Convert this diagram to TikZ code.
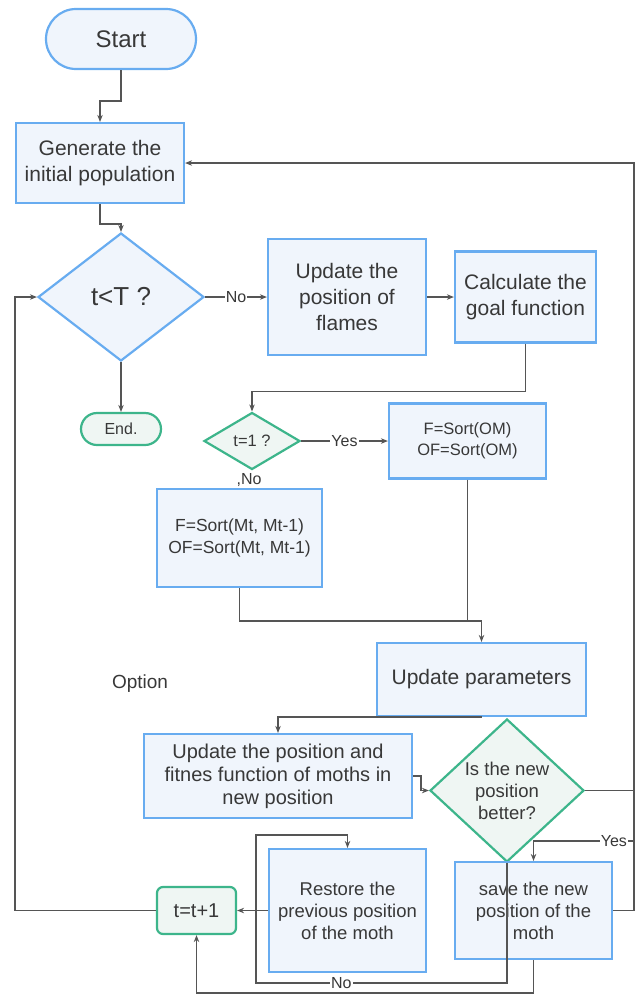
\documentclass[tikz,border=0pt]{standalone}
\usepackage{fontspec}
\setmainfont{Liberation Sans}
\usepackage{tikz}
\usetikzlibrary{shapes.geometric}
\usetikzlibrary{arrows.meta}

\definecolor{azul}{HTML}{68ACF0}
\definecolor{azulclaro}{HTML}{F0F5FC}
\definecolor{verde}{HTML}{3DB58B}
\definecolor{verdeclaro}{HTML}{EFF6F3}
\definecolor{linea}{HTML}{555555}
\definecolor{texto}{HTML}{383838}

\begin{document}
\begin{tikzpicture}[x=1pt, y=-1pt,
    >={Stealth[length=7pt,width=5.5pt]},
    every node/.style={text=texto, align=center, inner sep=0pt},
    caja/.style={draw=azul, fill=azulclaro, line width=2.2pt, rectangle},
    cajaverde/.style={draw=verde, fill=verdeclaro, line width=2.2pt, rectangle},
    rombo/.style={draw=azul, fill=azulclaro, line width=2.2pt, diamond},
    romboverde/.style={draw=verde, fill=verdeclaro, line width=2.2pt, diamond},
    etiqueta/.style={fill=white, inner sep=1pt, font=\fontsize{16}{19}\selectfont},
    arista/.style={draw=linea, line width=1.4pt}]
  \useasboundingbox (0,0) rectangle (638,994);

  % Nodos
  \node[caja, rounded corners=30pt, minimum width=150pt, minimum height=60pt,
        font=\fontsize{24}{28}\selectfont] (start) at (121,39) {Start};
  \node[caja, minimum width=168pt, minimum height=80pt,
        font=\fontsize{21}{26}\selectfont] (gen) at (100,163) {Generate the\\initial population};
  \node[rombo, minimum width=166pt, minimum height=128pt,
        font=\fontsize{26}{30}\selectfont] (tT) at (121,297) {t<T ?};
  \node[cajaverde, rounded corners=16pt, minimum width=80pt, minimum height=32pt,
        font=\fontsize{16}{19}\selectfont] (fin) at (121,429) {End.};
  \node[caja, minimum width=158pt, minimum height=116pt,
        font=\fontsize{21}{26}\selectfont] (flames) at (347,297) {Update the\\position of\\flames};
  \node[caja, minimum width=141pt, minimum height=91pt,
        font=\fontsize{21}{26}\selectfont] (calc) at (525.5,297) {Calculate the\\goal function};
  \node[romboverde, minimum width=96pt, minimum height=57pt,
        font=\fontsize{16.5}{19}\selectfont] (t1) at (252,441) {t=1 ?};
  \node[caja, minimum width=157pt, minimum height=75pt,
        font=\fontsize{16.5}{21}\selectfont] (sortOM) at (467.5,441) {F=Sort(OM)\\OF=Sort(OM)};
  \node[font=\fontsize{16}{19}\selectfont] (noT1) at (249,480) {,No};
  \node[caja, minimum width=165pt, minimum height=98pt,
        font=\fontsize{17.5}{22}\selectfont] (sortMt) at (239.5,538) {F=Sort(Mt, Mt-1)\\OF=Sort(Mt, Mt-1)};
  \node[caja, minimum width=209pt, minimum height=73pt,
        font=\fontsize{21}{26}\selectfont] (param) at (481.5,679.5) {Update parameters};
  \node[font=\fontsize{19}{22}\selectfont] (option) at (140,684) {Option};
  \node[caja, minimum width=268pt, minimum height=84pt,
        font=\fontsize{20}{23}\selectfont] (upd) at (278,776) {Update the position and\\fitnes function of moths in\\new position};
  \node[romboverde, minimum width=154pt, minimum height=143pt,
        font=\fontsize{18.5}{22}\selectfont] (mejor) at (507,790.5) {Is the new\\position\\better?};
  \node[cajaverde, rounded corners=6pt, minimum width=79pt, minimum height=47pt,
        font=\fontsize{20}{24}\selectfont] (tt) at (196.5,910.5) {t=t+1};
  \node[caja, minimum width=157pt, minimum height=123pt,
        font=\fontsize{18.5}{22}\selectfont] (rest) at (347.5,910.5) {Restore the\\previous position\\of the moth};
  \node[caja, minimum width=157pt, minimum height=97pt,
        font=\fontsize{18.5}{22}\selectfont] (save) at (533.5,910.5) {save the new\\position of the\\moth};

  \coordinate (der) at (634,163);
  \coordinate (si) at (634,841);
  \coordinate (noA) at (256,983);
  \coordinate (noB) at (256,835);

  % Aristas
  \draw[arista, ->] (start.south) -- ++(0,31) -| (gen.north);
  \draw[arista, ->] (gen.south) -- ++(0,20) -| (tT.north);
  \draw[arista, ->] (tT.east) -- node[etiqueta]{No} (flames.west);
  \draw[arista, ->] (tT.south) -- (fin.north);
  \draw[arista, ->] (flames.east) -- (calc.west);
  \draw[arista, ->] (calc.south) -- ++(0,48) -| (t1.north);
  \draw[arista, ->] (t1.east) -- node[etiqueta]{Yes} (sortOM.west);
  \draw[arista, ->] (sortMt.south) -- ++(0,33) -| (param.north);
  \draw[arista] (sortOM.south) -- ++(0,141);
  \draw[arista, ->] (param.south) -| (upd.north);
  \draw[arista, ->] (upd.east) -- ++(8,0) |- (mejor.west);
  \draw[arista] (mejor.east) -- (mejor.east -| der);
  \draw[arista, ->] (save.east) -| (der) -- (gen.east);
  \draw[arista, ->] (si) -| node[etiqueta, pos=0.1]{Yes} (save.north);
  \draw[arista, ->] (mejor.south) |- node[etiqueta, pos=0.83]{No} (noA) -- (noB) -| (rest.north);
  \draw[arista, ->] (rest.west) -- (tt.east);
  \draw[arista, ->] (save.south) -- ++(0,33) -| (tt.south);
  \draw[arista, ->] (tt.west) -- ++(-141,0) |- (tT.west);
\end{tikzpicture}
\end{document}
